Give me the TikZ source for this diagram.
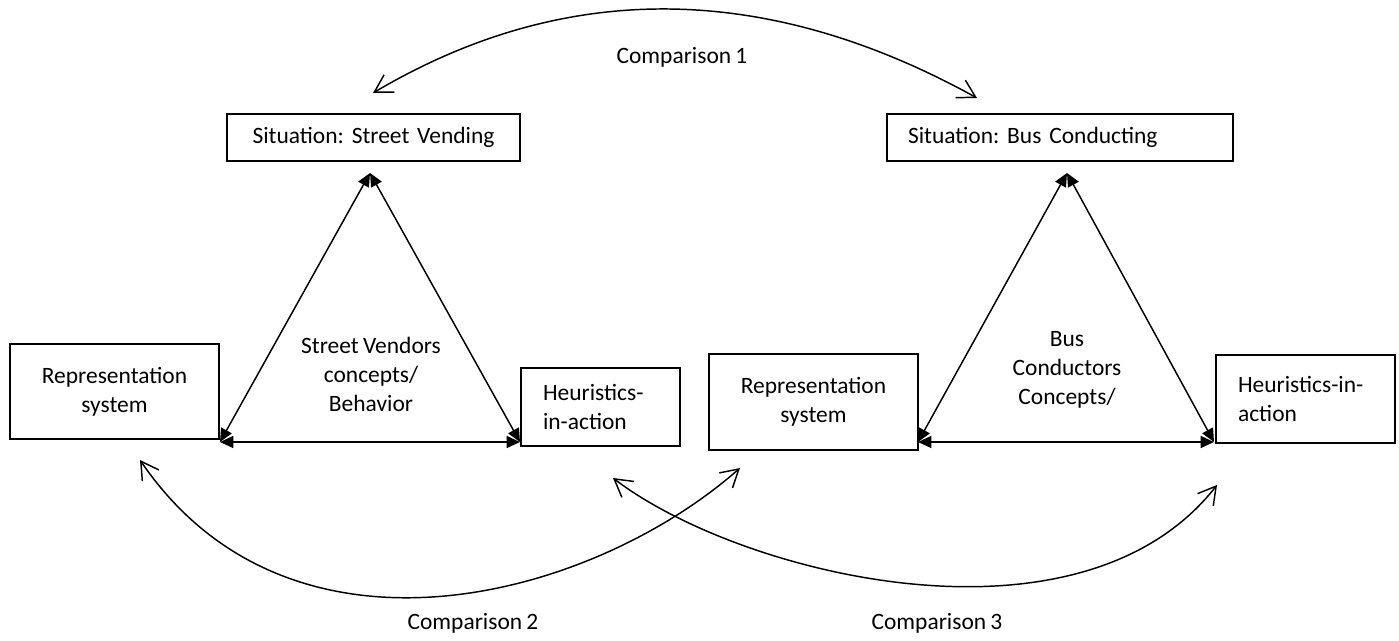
\documentclass[tikz,border=0pt]{standalone}
\usepackage{fontspec}
\setmainfont{Carlito}[WordSpace=0.8]
\usetikzlibrary{arrows.meta}
\frenchspacing
\begin{document}
\begin{tikzpicture}[x=0.75pt,y=-0.75pt,
  txt/.style={font=\fontsize{17.6}{21.75}\selectfont},
  box/.style={txt, draw, line width=1pt, inner sep=0pt},
  tri/.style={line width=1.1pt, {Triangle[length=10pt,width=9pt]}-{Triangle[length=10pt,width=9pt]}},
  cmp/.style={line width=1.1pt, {Straight Barb[length=13pt,width=15pt]}-{Straight Barb[length=13pt,width=15pt]}},
  lbl/.style={txt, align=center, inner sep=0pt}]
\fill[white] (0,0) rectangle (1399,640);
\useasboundingbox (0,0) rectangle (1399,640);

% boxes
\node[box, minimum height=35.25pt, text width=219.75pt, align=center] (sitA) at (373.5,137.5) {Situation: Street Vending};
\node[box, minimum height=35.25pt, inner xsep=15.75pt, text width=228pt, align=left] (sitB) at (1060,137.5) {Situation: Bus Conducting};
\node[box, minimum height=71.25pt, text width=156.75pt, align=center] (repA) at (114.5,391.5) {Representation\\system};
\node[box, minimum height=58.5pt, inner xsep=16.5pt, text width=86.25pt, align=left] (heurA) at (600.5,407) {\mbox{Heuristics-}\\\mbox{in-action}};
\node[box, minimum height=72pt, text width=156.75pt, align=center] (repB) at (813.5,402) {Representation\\system};
\node[box, minimum height=66pt, inner xsep=16.5pt, text width=101.25pt, align=left] (heurB) at (1305.5,399) {\mbox{Heuristics-in-}\\action};

% inner labels
\node[lbl] (svText) at (371,374) {Street Vendors\\concepts/\\Behavior};
\node[lbl] (bcText) at (1067,370) {Bus\\Conductors\\Concepts/};
\node[lbl] (c1) at (682,57) {Comparison 1};
\node[lbl] (c2) at (473,623) {Comparison 2};
\node[lbl] (c3) at (937,623) {Comparison 3};

% triangle corners
\coordinate (aT) at (370,173);
\coordinate (aL) at (220,442);
\coordinate (aR) at (520,442);
\coordinate (bT) at (1067,173);
\coordinate (bL) at (918,442);
\coordinate (bR) at (1214,442);

\draw[tri] (aT) -- (aL);
\draw[tri] (aT) -- (aR);
\draw[tri] (aL) -- (aR);
\draw[tri] (bT) -- (bL);
\draw[tri] (bT) -- (bR);
\draw[tri] (bL) -- (bR);

% comparison arcs
\coordinate (c1L) at (373,93);
\coordinate (c1R) at (977,98);
\coordinate (c2L) at (140,460);
\coordinate (c2R) at (740,468);
\coordinate (c3L) at (613,478);
\coordinate (c3R) at (1217,485);

\draw[cmp] (c1L) .. controls (564,-20) and (765,-19) .. (c1R);
\draw[cmp] (c2L) .. controls (290,680) and (590,600) .. (c2R);
\draw[cmp] (c3L) .. controls (740,575) and (1080,660) .. (c3R);
\end{tikzpicture}
\end{document}
